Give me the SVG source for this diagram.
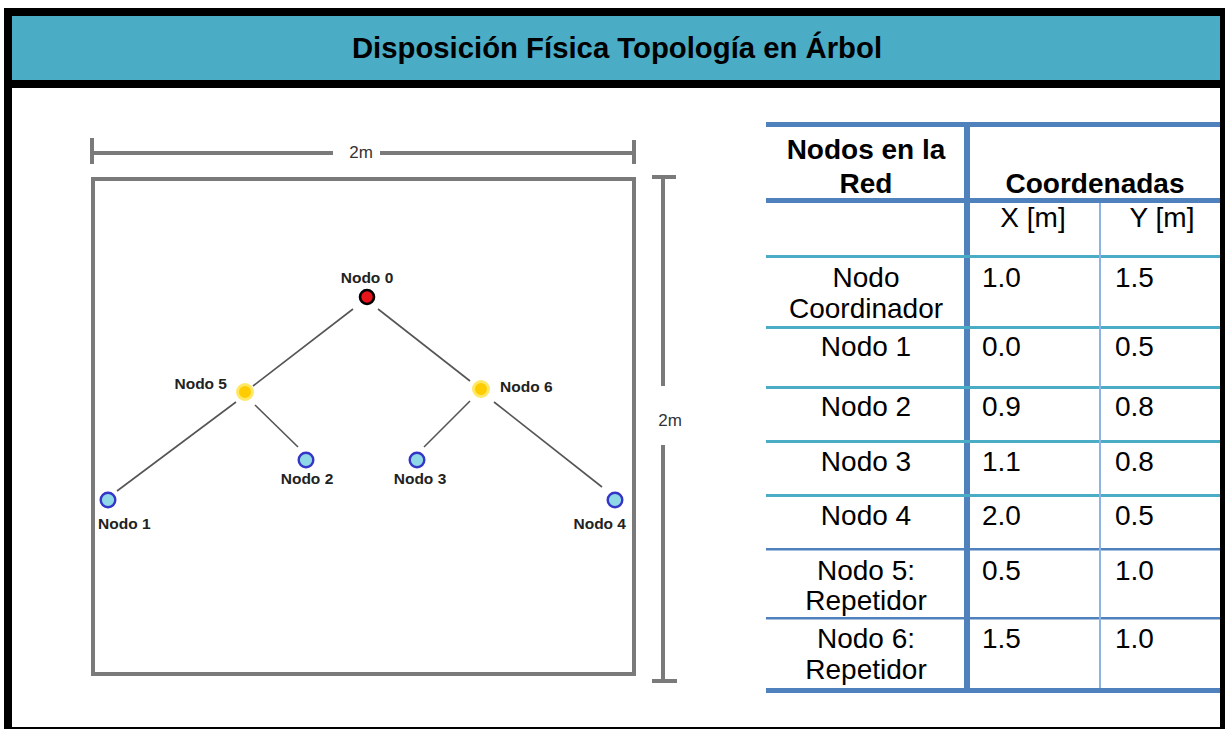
<svg xmlns="http://www.w3.org/2000/svg" width="1225" height="729" viewBox="0 0 1225 729">
<style>
.t{font-family:"Liberation Sans",Arial,sans-serif;fill:#000}
.b{font-weight:bold}
.cell{font-size:28px}
.lbl{font-family:"Liberation Sans",Arial,sans-serif;font-weight:bold;font-size:15.5px;fill:#222}
.dim{font-family:"Liberation Sans",Arial,sans-serif;font-size:17px;fill:#333}
.gray{stroke:#7a7a7a;stroke-width:4;fill:none}
.edge{stroke:#555;stroke-width:1.6;fill:none}
.blue{fill:#8fd8e6;stroke:#3535c8;stroke-width:2.4}
.yel{fill:#ffcc00;stroke:#ffe866;stroke-width:3}
.red{fill:#e8141c;stroke:#000;stroke-width:2.6}
</style>
<rect width="1225" height="729" fill="#fff"/>
<g id="frame">
<rect x="4" y="8" width="1221" height="80" fill="#000"/>
<rect x="12" y="16" width="1208" height="64" fill="#4bacc6"/>
<rect x="4" y="88" width="8" height="641" fill="#000"/>
<rect x="1220" y="88" width="5" height="641" fill="#000"/>
<rect x="4" y="727" width="1221" height="2" fill="#000"/>
<text class="t b" x="617" y="58" font-size="29.3" text-anchor="middle">Disposición Física Topología en Árbol</text>
</g>
<g id="room">
<rect class="gray" x="93" y="179" width="541" height="495"/>
<path class="gray" d="M92 153H333M380 153H634M92 138V164M634 140V164"/>
<text class="dim" x="361" y="158" text-anchor="middle">2m</text>
<path class="gray" d="M663 177V386M663 445V681M652 177H676M652 681H677"/>
<text class="dim" x="670" y="426" text-anchor="middle">2m</text>
</g>
<g id="connectors">
<line class="edge" x1="353" y1="309" x2="253" y2="386"/>
<line class="edge" x1="378" y1="309" x2="470" y2="381"/>
<line class="edge" x1="236" y1="402" x2="117" y2="491"/>
<line class="edge" x1="255" y1="405" x2="298" y2="447"/>
<line class="edge" x1="470" y1="401" x2="424" y2="447"/>
<line class="edge" x1="494" y1="402" x2="602" y2="487"/>
</g>
<g id="node0"><circle class="red" cx="367" cy="297" r="7"/><text class="lbl" x="367" y="283" text-anchor="middle">Nodo 0</text></g>
<g id="node5"><circle class="yel" cx="245" cy="392" r="7.5"/><text class="lbl" x="227" y="389" text-anchor="end">Nodo 5</text></g>
<g id="node6"><circle class="yel" cx="481" cy="389" r="7.5"/><text class="lbl" x="500" y="392">Nodo 6</text></g>
<g id="node1"><circle class="blue" cx="108" cy="500" r="7.3"/><text class="lbl" x="98" y="529">Nodo 1</text></g>
<g id="node2"><circle class="blue" cx="306" cy="460" r="7.3"/><text class="lbl" x="307" y="484" text-anchor="middle">Nodo 2</text></g>
<g id="node3"><circle class="blue" cx="417" cy="460" r="7.3"/><text class="lbl" x="420" y="484" text-anchor="middle">Nodo 3</text></g>
<g id="node4"><circle class="blue" cx="615" cy="500" r="7.3"/><text class="lbl" x="626" y="529" text-anchor="end">Nodo 4</text></g>
<g id="table">
<g fill="#4f81bd">
<rect x="766" y="122" width="454" height="5"/>
<rect x="766" y="198" width="454" height="5"/>
<rect x="766" y="548" width="454" height="2.5"/>
<rect x="766" y="617" width="454" height="2.5"/>
<rect x="766" y="688" width="454" height="5"/>
<rect x="964" y="122" width="6" height="571"/>
</g>
<g fill="#4bacc6">
<rect x="766" y="255" width="454" height="3"/>
<rect x="766" y="326" width="454" height="3"/>
<rect x="766" y="386" width="454" height="3"/>
<rect x="766" y="440" width="454" height="3"/>
<rect x="766" y="494" width="454" height="3"/>
</g>
<rect x="1099" y="203" width="2" height="485" fill="#8db3e2"/>
<g class="t cell">
<text class="b" x="866" y="159" text-anchor="middle">Nodos en la</text>
<text class="b" x="866" y="193" text-anchor="middle">Red</text>
<text class="b" x="1095" y="193" text-anchor="middle">Coordenadas</text>
<text x="1033" y="227" text-anchor="middle">X [m]</text>
<text x="1162" y="227" text-anchor="middle">Y [m]</text>
<text x="866" y="287" text-anchor="middle">Nodo</text>
<text x="866" y="318" text-anchor="middle">Coordinador</text>
<text x="982" y="287">1.0</text><text x="1115" y="287">1.5</text>
<text x="866" y="356" text-anchor="middle">Nodo 1</text>
<text x="982" y="356">0.0</text><text x="1115" y="356">0.5</text>
<text x="866" y="416" text-anchor="middle">Nodo 2</text>
<text x="982" y="416">0.9</text><text x="1115" y="416">0.8</text>
<text x="866" y="471" text-anchor="middle">Nodo 3</text>
<text x="982" y="471">1.1</text><text x="1115" y="471">0.8</text>
<text x="866" y="525" text-anchor="middle">Nodo 4</text>
<text x="982" y="525">2.0</text><text x="1115" y="525">0.5</text>
<text x="866" y="580" text-anchor="middle">Nodo 5:</text>
<text x="866" y="610" text-anchor="middle">Repetidor</text>
<text x="982" y="580">0.5</text><text x="1115" y="580">1.0</text>
<text x="866" y="648" text-anchor="middle">Nodo 6:</text>
<text x="866" y="679" text-anchor="middle">Repetidor</text>
<text x="982" y="648">1.5</text><text x="1115" y="648">1.0</text>
</g>
</g>
</svg>
